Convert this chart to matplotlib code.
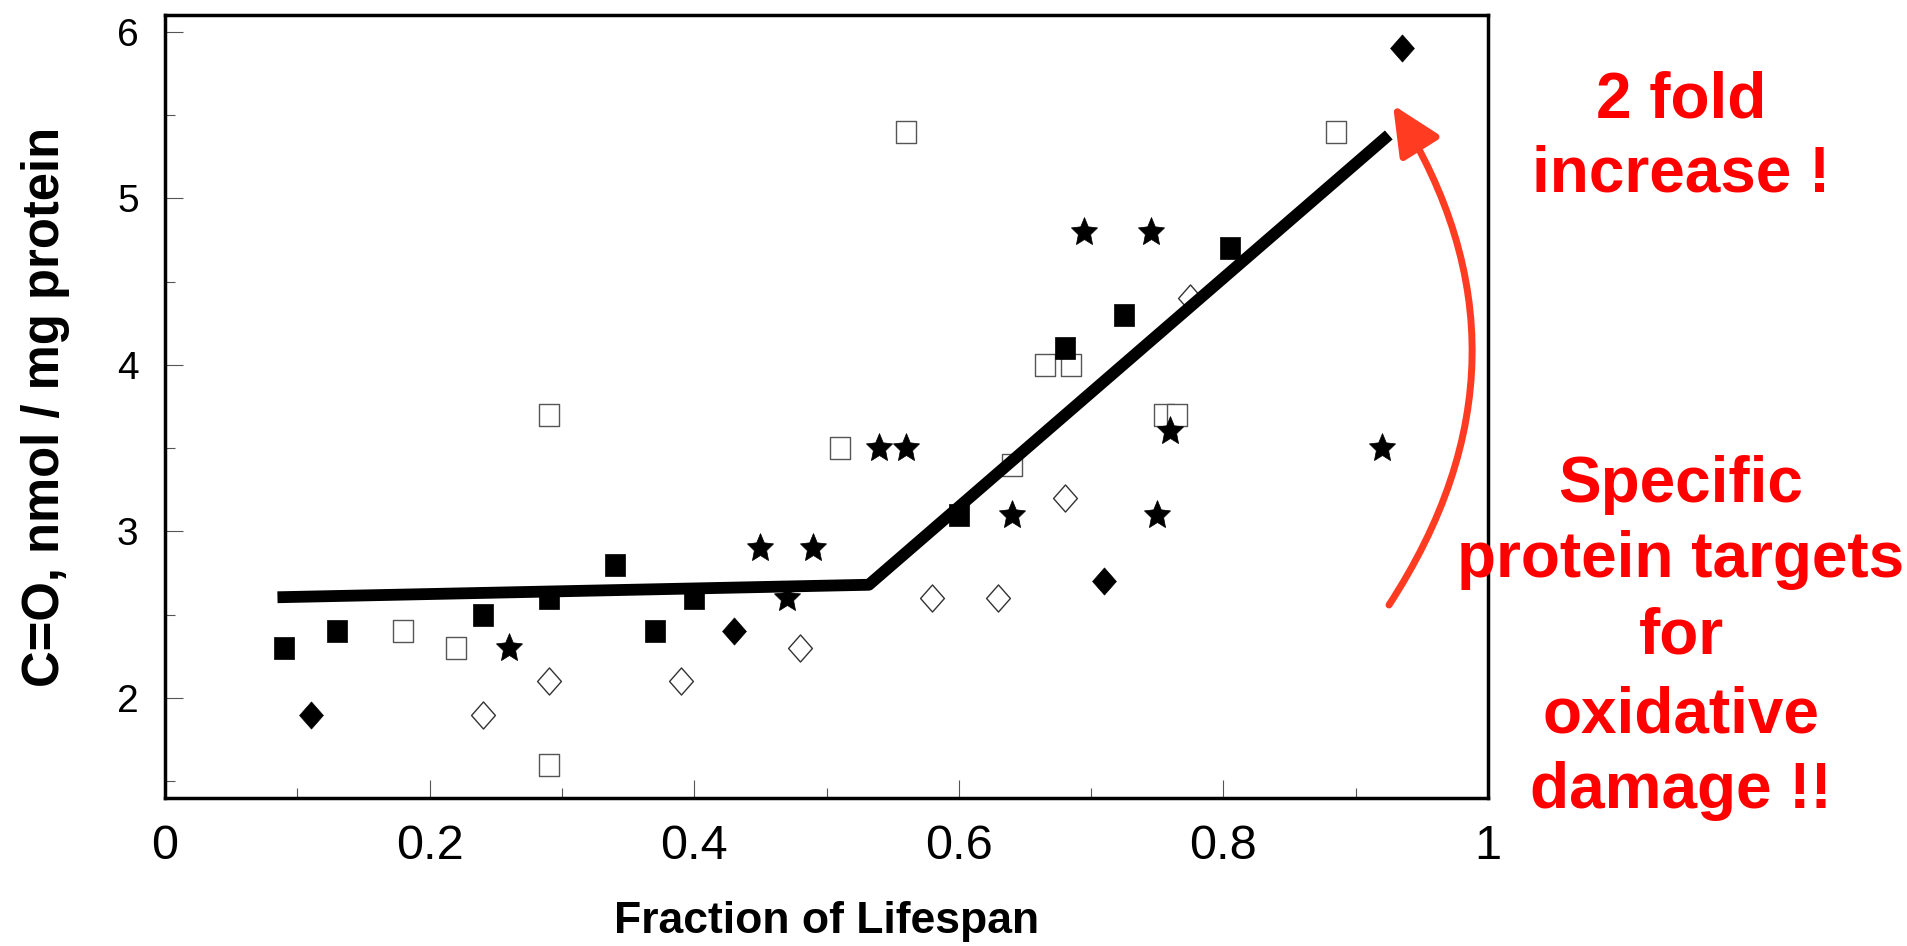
import numpy as np
import matplotlib
matplotlib.use("Agg")
import matplotlib.pyplot as plt
from matplotlib.path import Path
from matplotlib.patches import FancyArrowPatch
from matplotlib.ticker import MultipleLocator, FixedLocator, FixedFormatter
from matplotlib import font_manager as fm

# ---------------- data ----------------
filled_sq_x = [0.09, 0.13, 0.24, 0.29, 0.34, 0.37, 0.40, 0.60, 0.68, 0.725, 0.805]
filled_sq_y = [2.3, 2.4, 2.5, 2.6, 2.8, 2.4, 2.6, 3.1, 4.1, 4.3, 4.7]

open_sq_x = [0.18, 0.22, 0.29, 0.29, 0.51, 0.56, 0.64, 0.665, 0.685, 0.755, 0.765, 0.885]
open_sq_y = [2.4, 2.3, 3.7, 1.6, 3.5, 5.4, 3.4, 4.0, 4.0, 3.7, 3.7, 5.4]

filled_dia_x = [0.11, 0.43, 0.71, 0.935]
filled_dia_y = [1.9, 2.4, 2.7, 5.9]

open_dia_x = [0.24, 0.29, 0.39, 0.48, 0.58, 0.63, 0.68, 0.775]
open_dia_y = [1.9, 2.1, 2.1, 2.3, 2.6, 2.6, 3.2, 4.4]

star_x = [0.26, 0.45, 0.47, 0.49, 0.54, 0.56, 0.64, 0.695, 0.745, 0.75, 0.76, 0.92]
star_y = [2.3, 2.9, 2.6, 2.9, 3.5, 3.5, 3.1, 4.8, 4.8, 3.1, 3.6, 3.5]

fit_x = [0.085, 0.532, 0.925]
fit_y = [2.605, 2.68, 5.38]

x_ticks = [0, 0.2, 0.4, 0.6, 0.8, 1.0]
x_tick_labels = ["0", "0.2", "0.4", "0.6", "0.8", "1"]
y_ticks = [2, 3, 4, 5, 6]
y_tick_labels = ["2", "3", "4", "5", "6"]

x_label = "Fraction of Lifespan"
y_label = "C=O, nmol / mg protein"
note_top = ["2 fold", "increase !"]
note_bottom = ["Specific", "protein targets", "for", "oxidative", "damage !!"]

# ---------------- figure ----------------
W, H = 1907, 946
fig = plt.figure(figsize=(W / 100, H / 100), dpi=100)
fig.patch.set_facecolor("white")

names = {f.name for f in fm.fontManager.ttflist}
base = "Liberation Sans" if "Liberation Sans" in names else "DejaVu Sans"
narrow = "Liberation Sans Narrow" if "Liberation Sans Narrow" in names else None
plt.rcParams["font.family"] = [base, "DejaVu Sans"]

ax = fig.add_axes([165 / W, 1 - 798 / H, (1488 - 165) / W, (798 - 15) / H])
ax.set_xlim(0, 1)
ax.set_ylim(1.4, 6.1)

# marker shapes
rect = Path([(-0.9, -1), (0.9, -1), (0.9, 1), (-0.9, 1), (-0.9, -1)],
            [Path.MOVETO, Path.LINETO, Path.LINETO, Path.LINETO, Path.CLOSEPOLY])
diamond = Path([(0, 1), (0.88, 0), (0, -1), (-0.88, 0), (0, 1)],
               [Path.MOVETO, Path.LINETO, Path.LINETO, Path.LINETO, Path.CLOSEPOLY])
ang = np.deg2rad(90 + np.arange(10) * 36)
rad = np.where(np.arange(10) % 2 == 0, 1.0, 0.47)
sv = np.column_stack([0.92 * rad * np.cos(ang), rad * np.sin(ang)])
sv = np.vstack([sv, sv[:1]])
star = Path(sv, [Path.MOVETO] + [Path.LINETO] * 9 + [Path.CLOSEPOLY])

ax.plot(open_sq_x, open_sq_y, ls="none", marker=rect, ms=16.5, mfc="white",
        mec="#555555", mew=1.0, zorder=3)
ax.plot(filled_sq_x, filled_sq_y, ls="none", marker=rect, ms=16.5, mfc="black",
        mec="black", mew=0.5, zorder=4)
ax.plot(open_dia_x, open_dia_y, ls="none", marker=diamond, ms=19.5, mfc="white",
        mec="#333333", mew=1.0, zorder=4)
ax.plot(filled_dia_x, filled_dia_y, ls="none", marker=diamond, ms=19.5, mfc="black",
        mec="black", mew=0.5, zorder=4)
ax.plot(star_x, star_y, ls="none", marker=star, ms=21.5, mfc="black",
        mec="black", mew=0.5, zorder=5)
ax.plot(fit_x, fit_y, color="black", lw=8.5, solid_capstyle="butt",
        solid_joinstyle="round", zorder=6)

# axes styling
for s in ax.spines.values():
    s.set_linewidth(2.5)
    s.set_color("black")
ax.xaxis.set_major_locator(FixedLocator(x_ticks))
ax.xaxis.set_major_formatter(FixedFormatter(x_tick_labels))
ax.yaxis.set_major_locator(FixedLocator(y_ticks))
ax.yaxis.set_major_formatter(FixedFormatter(y_tick_labels))
ax.xaxis.set_minor_locator(MultipleLocator(0.1))
ax.yaxis.set_minor_locator(MultipleLocator(0.5))
ax.tick_params(which="both", direction="in", top=False, right=False, color="#555555")
ax.tick_params(which="major", length=13, width=0.8)
ax.tick_params(which="minor", length=7, width=0.8)
ax.tick_params(axis="x", which="major", pad=19)
ax.tick_params(axis="y", which="major", pad=19, labelsize=28)
for lab in ax.get_xticklabels():
    if narrow:
        lab.set_family([narrow, base])
        lab.set_fontsize(37)
    else:
        lab.set_fontsize(35)

ax.set_xlabel(x_label, fontsize=32, fontweight="bold")
ax.xaxis.label.set_va("baseline")
ax.xaxis.set_label_coords(0.5, (798 - 933) / 783)
ax.set_ylabel(y_label, fontsize=36.5, fontweight="bold")
ax.yaxis.label.set_va("center")
ax.yaxis.set_label_coords((46 - 165) / 1323, 0.5)

# red annotations
cx = 1681 / W
for txt, yb in zip(note_top, [117, 192]):
    fig.text(cx, 1 - yb / H, txt, ha="center", va="baseline", fontsize=46,
             fontweight="bold", color="#FF0000")
for txt, yb in zip(note_bottom, [502, 577, 653, 732, 808]):
    fig.text(cx, 1 - yb / H, txt, ha="center", va="baseline", fontsize=46,
             fontweight="bold", color="#FF0000")

arr = FancyArrowPatch(posA=(1389 / W, 1 - 605 / H), posB=(1393 / W, 1 - 105 / H),
                      transform=fig.transFigure, connectionstyle="arc3,rad=0.32",
                      arrowstyle="-|>,head_length=30,head_width=14", mutation_scale=1,
                      lw=5, color="#FF3B22", shrinkA=0, shrinkB=0, zorder=10)
fig.add_artist(arr)

fig.savefig("out.png", dpi=100, facecolor="white")
